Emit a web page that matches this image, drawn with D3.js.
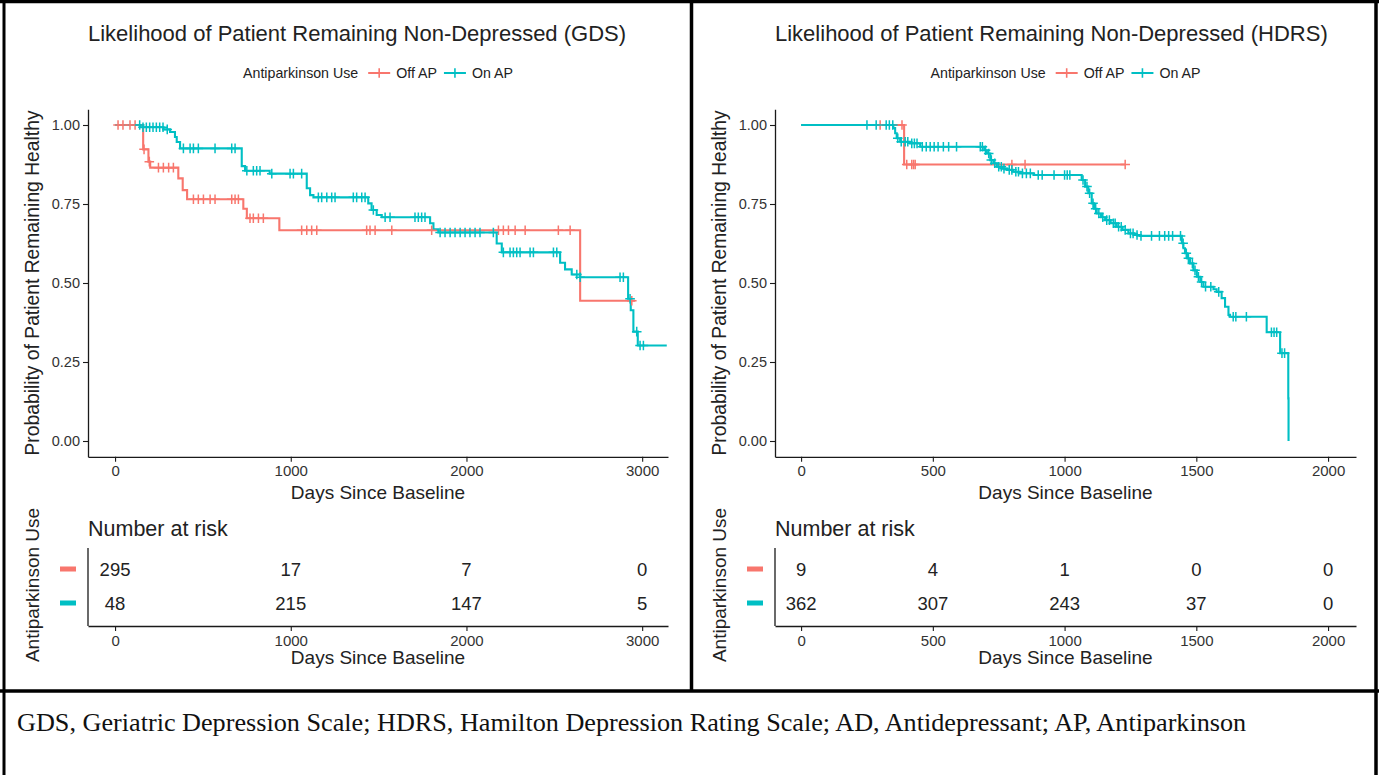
<!DOCTYPE html>
<html>
<head>
<meta charset="utf-8">
<script src="https://cdn.jsdelivr.net/npm/d3@7"></script>
<style>
  html, body { margin: 0; padding: 0; background: #fff; }
  svg { display: block; }
</style>
</head>
<body>
<svg id="fig" width="1379" height="775"></svg>
<script>
// ---------------- data ----------------
const groups = ["Off AP", "On AP"];
const groupColors = ["#F8766D", "#00BFC4"];
const survTicks = [0, 0.25, 0.5, 0.75, 1];

// GDS, off antiparkinson: step times (days) and survival after each step
const gdsOffTime = [0, 160, 190, 200, 360, 385, 410, 730, 750, 935, 2647];
const gdsOffSurv = [1, 0.923, 0.884, 0.865, 0.831, 0.794, 0.765, 0.735, 0.705, 0.667, 0.444];
const gdsOffEnd = 2960;
const gdsOffCensor = [17, 45, 85, 114, 165, 195, 247, 275, 305, 332, 446, 474, 503, 541, 569, 664, 683, 702,
  768, 787, 816, 844, 1062, 1091, 1119, 1148, 1432, 1451, 1480, 1575, 1802, 2182, 2210, 2239, 2277, 2334,
  2523, 2590, 2941];

// GDS, on antiparkinson
const gdsOnTime = [0, 142, 275, 313, 341, 351, 370, 721, 740, 880, 1091, 1110, 1129, 1441, 1460, 1489, 1518,
  1793, 1812, 1840, 2172, 2201, 2533, 2561, 2599, 2647, 2920, 2935, 2950, 2975];
const gdsOnSurv = [1, 0.993, 0.986, 0.978, 0.962, 0.946, 0.926, 0.870, 0.855, 0.846, 0.800, 0.778, 0.771,
  0.752, 0.731, 0.715, 0.708, 0.689, 0.670, 0.660, 0.625, 0.597, 0.564, 0.543, 0.527, 0.518, 0.450, 0.414,
  0.346, 0.302];
const gdsOnEnd = 3140;
const gdsOnCensor = [140, 159, 178, 197, 216, 235, 254, 273, 297, 389, 427, 446, 474, 569, 664, 683,
  750, 787, 806, 825, 892, 996, 1015, 1062, 1157, 1176, 1205, 1233, 1252, 1356, 1375, 1404, 1423,
  1470, 1537, 1565, 1707, 1726, 1745, 1764, 1850, 1878, 1907, 1935, 1964, 1992, 2020, 2049, 2077, 2153,
  2210, 2248, 2267, 2286, 2305, 2362, 2381, 2495, 2514, 2628, 2647, 2874, 2893, 2931, 2969, 2988, 3007];

// HDRS, off antiparkinson
const hdrsOffTime = [0, 391];
const hdrsOffSurv = [1, 0.875];
const hdrsOffEnd = 1230;
const hdrsOffCensor = [300, 383, 401, 420, 427, 433, 800, 850, 1230];

// HDRS, on antiparkinson
const hdrsOnTime = [0, 350, 357, 363, 376, 414, 452, 695, 705, 718, 730, 743, 762, 781, 805, 831, 882,
  1065, 1078, 1090, 1103, 1112, 1122, 1138, 1154, 1175, 1198, 1220, 1242, 1265, 1287,
  1445, 1451, 1457, 1466, 1476, 1489, 1502, 1515, 1527, 1565, 1577, 1596, 1609, 1622, 1628,
  1767, 1818, 1849, 1850];
const hdrsOnSurv = [1, 0.99, 0.974, 0.958, 0.947, 0.942, 0.931, 0.92, 0.91, 0.889, 0.879, 0.868, 0.862, 0.858,
  0.852, 0.847, 0.842, 0.826, 0.805, 0.784, 0.752, 0.735, 0.720, 0.708, 0.699, 0.689, 0.678, 0.668, 0.657,
  0.652, 0.649, 0.626, 0.61, 0.594, 0.578, 0.562, 0.54, 0.520, 0.503, 0.488, 0.48, 0.472, 0.452, 0.425,
  0.399, 0.393, 0.344, 0.278, 0.135, 0.0];
const hdrsOnEnd = 1850;
const hdrsOnCensor = [250, 285, 323, 335, 348, 367, 380, 395, 405, 420, 430, 440, 460, 475, 490, 505, 520,
  540, 560, 590, 680, 688, 700, 712, 722, 735, 750, 760, 770, 790, 800, 815, 825, 840, 855, 870, 900, 915,
  960, 1000, 1010, 1020, 1070, 1085, 1095, 1108, 1118, 1130, 1145, 1160, 1170, 1185, 1192, 1205, 1215,
  1230, 1250, 1260, 1275, 1290, 1330, 1360, 1380, 1395, 1410, 1440, 1450, 1462, 1470, 1485, 1495, 1508,
  1520, 1535, 1555, 1585, 1640, 1650, 1690, 1785, 1795, 1805, 1825, 1835];

// numbers at risk
const gdsRiskTicks = [0, 1000, 2000, 3000];
const gdsRiskOff = [295, 17, 7, 0];
const gdsRiskOn = [48, 215, 147, 5];
const hdrsRiskTicks = [0, 500, 1000, 1500, 2000];
const hdrsRiskOff = [9, 4, 1, 0, 0];
const hdrsRiskOn = [362, 307, 243, 37, 0];

const captionText = "GDS, Geriatric Depression Scale; HDRS, Hamilton Depression Rating Scale; AD, Antidepressant; AP, Antiparkinson";

// ---------------- drawing ----------------
const SANS = "'Liberation Sans', Arial, sans-serif";
const svg = d3.select("#fig");
svg.append("rect").attr("width", 1379).attr("height", 775).attr("fill", "#fff");

function curveOf(times, surv, end) {
  const pts = times.map((t, i) => ({ t, s: surv[i] }));
  pts.push({ t: end, s: surv[surv.length - 1] });
  return pts;
}
function survAt(times, surv, t) {
  let idx = d3.bisectRight(times, t) - 1;
  if (idx < 0) idx = 0;
  return surv[idx];
}
const plusPath = "M-4.8,0H4.8M0,-4.8V4.8";

function styleAxis(sel) {
  sel.select(".domain").attr("stroke", "#1a1a1a").attr("stroke-width", 1.3);
  sel.selectAll(".tick line").attr("stroke", "#1a1a1a").attr("stroke-width", 1.1);
  sel.selectAll(".tick text").attr("fill", "#333").style("font-family", SANS);
}

function drawPanel(cfg) {
  const g = svg.append("g");
  const x = d3.scaleLinear().domain(cfg.domain).range([cfg.left, cfg.right]);
  const y = d3.scaleLinear().domain([-0.05, 1.05]).range([456.8, 109.2]);
  const midX = (cfg.left + cfg.right) / 2;

  // title
  g.append("text").attr("x", cfg.left).attr("y", 41)
    .style("font-family", SANS).style("font-size", "22px").attr("fill", "#222")
    .text(cfg.title);

  // legend
  const lg = g.append("g");
  const legendFont = "14.2px";
  let cx = 0;
  const lt = lg.append("text").attr("x", 0).attr("y", 78).style("font-family", SANS)
    .style("font-size", legendFont).attr("fill", "#222").text("Antiparkinson Use");
  cx += lt.node().getComputedTextLength() + 10;
  groups.forEach((name, i) => {
    lg.append("line").attr("x1", cx).attr("x2", cx + 22).attr("y1", 73).attr("y2", 73)
      .attr("stroke", groupColors[i]).attr("stroke-width", 2);
    lg.append("path").attr("d", plusPath).attr("transform", `translate(${cx + 11},73)`)
      .attr("stroke", groupColors[i]).attr("stroke-width", 1.6).attr("fill", "none");
    cx += 28;
    const tx = lg.append("text").attr("x", cx).attr("y", 78).style("font-family", SANS)
      .style("font-size", legendFont).attr("fill", "#222").text(name);
    cx += tx.node().getComputedTextLength() + 7;
  });
  const lw = cx - 7;
  lg.attr("transform", `translate(${midX - lw / 2},0)`);

  // axes of survival plot
  const xa = g.append("g").attr("transform", `translate(0,${y(-0.05)})`)
    .call(d3.axisBottom(x).tickValues(cfg.ticks).tickSize(5).tickSizeOuter(0).tickPadding(4).tickFormat(d3.format("d")));
  xa.selectAll(".tick text").style("font-size", "15px");
  styleAxis(xa);
  const ya = g.append("g").attr("transform", `translate(${cfg.left},0)`)
    .call(d3.axisLeft(y).tickValues(survTicks).tickSize(5).tickSizeOuter(0).tickPadding(3).tickFormat(d3.format(".2f")));
  ya.selectAll(".tick text").style("font-size", "14.5px");
  styleAxis(ya);

  g.append("text").attr("x", midX).attr("y", 499).attr("text-anchor", "middle")
    .style("font-family", SANS).style("font-size", "19px").attr("fill", "#222").text("Days Since Baseline");
  g.append("text").attr("transform", `translate(${cfg.yTitleX},${(109 + 457) / 2}) rotate(-90)`)
    .attr("text-anchor", "middle").attr("dy", "0.35em")
    .style("font-family", SANS).style("font-size", "19.3px").attr("fill", "#222")
    .text("Probability of Patient Remaining Healthy");

  // survival curves
  const line = d3.line().x(d => x(d.t)).y(d => y(d.s)).curve(d3.curveStepAfter);
  cfg.series.forEach((s, i) => {
    g.append("path").datum(curveOf(s.time, s.surv, s.end)).attr("d", line)
      .attr("fill", "none").attr("stroke", groupColors[i]).attr("stroke-width", 2.1);
  });
  cfg.series.forEach((s, i) => {
    g.append("g").selectAll("path").data(s.censor).join("path")
      .attr("d", plusPath)
      .attr("transform", t => `translate(${x(t)},${y(survAt(s.time, s.surv, t))})`)
      .attr("stroke", groupColors[i]).attr("stroke-width", 1.5).attr("fill", "none");
  });

  // risk table
  g.append("text").attr("x", cfg.left).attr("y", 535.5).style("font-family", SANS)
    .style("font-size", "21.5px").attr("fill", "#222").text("Number at risk");
  const rows = d3.scalePoint().domain(groups).range([569, 603]);
  const tx = g.append("g").attr("transform", "translate(0,626)")
    .call(d3.axisBottom(x).tickValues(cfg.ticks).tickSize(5).tickSizeOuter(0).tickPadding(4).tickFormat(d3.format("d")));
  tx.selectAll(".tick text").style("font-size", "15px");
  styleAxis(tx);
  g.append("line").attr("x1", cfg.left).attr("x2", cfg.left).attr("y1", 548).attr("y2", 626)
    .attr("stroke", "#1a1a1a").attr("stroke-width", 1.3);
  cfg.risk.forEach((vals, i) => {
    g.append("rect").attr("x", cfg.left - 28).attr("y", rows(groups[i]) - 2.5)
      .attr("width", 16).attr("height", 5).attr("fill", groupColors[i]);
    g.append("g").selectAll("text").data(vals).join("text")
      .attr("x", (d, j) => x(cfg.ticks[j])).attr("y", rows(groups[i])).attr("dy", "0.36em")
      .attr("text-anchor", "middle").style("font-family", SANS).style("font-size", "18.5px")
      .attr("fill", "#222").text(d => d);
  });
  g.append("text").attr("x", midX).attr("y", 664).attr("text-anchor", "middle")
    .style("font-family", SANS).style("font-size", "19px").attr("fill", "#222").text("Days Since Baseline");
  g.append("text").attr("transform", `translate(${cfg.yTitleX},585) rotate(-90)`)
    .attr("text-anchor", "middle").attr("dy", "0.35em")
    .style("font-family", SANS).style("font-size", "19px").attr("fill", "#222")
    .text("Antiparkinson Use");
}

drawPanel({
  left: 88, right: 668, domain: [-154, 3147], ticks: gdsRiskTicks, yTitleX: 32,
  title: "Likelihood of Patient Remaining Non-Depressed (GDS)",
  series: [
    { time: gdsOffTime, surv: gdsOffSurv, end: gdsOffEnd, censor: gdsOffCensor },
    { time: gdsOnTime, surv: gdsOnSurv, end: gdsOnEnd, censor: gdsOnCensor }
  ],
  risk: [gdsRiskOff, gdsRiskOn]
});
drawPanel({
  left: 775, right: 1356, domain: [-99, 2106], ticks: hdrsRiskTicks, yTitleX: 719,
  title: "Likelihood of Patient Remaining Non-Depressed (HDRS)",
  series: [
    { time: hdrsOffTime, surv: hdrsOffSurv, end: hdrsOffEnd, censor: hdrsOffCensor },
    { time: hdrsOnTime, surv: hdrsOnSurv, end: hdrsOnEnd, censor: hdrsOnCensor }
  ],
  risk: [hdrsRiskOff, hdrsRiskOn]
});

// caption
svg.append("text").attr("x", 17).attr("y", 731)
  .style("font-family", "'Liberation Serif', 'Times New Roman', serif").style("font-size", "26.2px")
  .attr("fill", "#111").text(captionText);

// table borders
const frame = svg.append("g").attr("stroke", "#000").attr("fill", "none");
frame.append("line").attr("x1", 0).attr("x2", 1379).attr("y1", 1.5).attr("y2", 1.5).attr("stroke-width", 3.5);
frame.append("line").attr("x1", 4).attr("x2", 4).attr("y1", 0).attr("y2", 775).attr("stroke-width", 3);
frame.append("line").attr("x1", 1376).attr("x2", 1376).attr("y1", 0).attr("y2", 775).attr("stroke-width", 3.5);
frame.append("line").attr("x1", 691.5).attr("x2", 691.5).attr("y1", 0).attr("y2", 691).attr("stroke-width", 3.5);
frame.append("line").attr("x1", 0).attr("x2", 1379).attr("y1", 691).attr("y2", 691).attr("stroke-width", 3.5);
</script>
</body>
</html>
